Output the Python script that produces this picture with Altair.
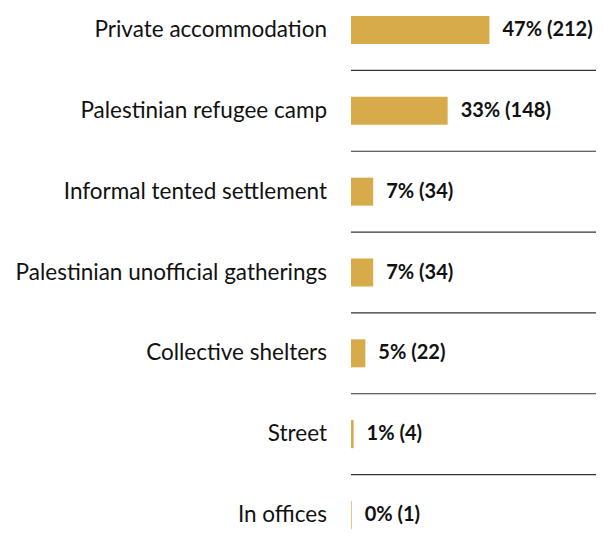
import altair as alt
import pandas as pd

categories = [
    "Private accommodation",
    "Palestinian refugee camp",
    "Informal tented settlement",
    "Palestinian unofficial gatherings",
    "Collective shelters",
    "Street",
    "In offices",
]
counts = [212, 148, 34, 34, 22, 4, 1]
percents = [47, 33, 7, 7, 5, 1, 0]

df = pd.DataFrame({
    "cat": categories,
    "count": counts,
    "idx": list(range(len(categories))),
    "label": [f"{p}% ({c})" for p, c in zip(percents, counts)],
})
sep = pd.DataFrame({"pos": [i + 0.5 for i in range(len(categories) - 1)]})

W, H = 588, 522
px_per = 0.653
zero_px = 343
first_c, last_c = 22, 507
step = (last_c - first_c) / 6
xdom = [-zero_px / px_per, (W - zero_px) / px_per]
ydom = [-first_c / step, 6 + (H - last_c) / step]

x_sc = alt.Scale(domain=xdom, nice=False, zero=False, padding=0)
y_sc = alt.Scale(domain=ydom, nice=False, zero=False, reverse=True, padding=0)

base = alt.Chart(df)

bars = base.mark_bar(height=28, color="#D7AB4A").encode(
    x=alt.X("count:Q", scale=x_sc, axis=None),
    x2=alt.datum(0),
    y=alt.Y("idx:Q", scale=y_sc, axis=None),
)

vals = base.mark_text(
    align="left", baseline="middle", dx=13, fontSize=20, fontWeight="bold",
    font="Lato", color="#111111",
).encode(
    x=alt.X("count:Q", scale=x_sc, axis=None),
    y=alt.Y("idx:Q", scale=y_sc, axis=None),
    text="label:N",
)

cats = base.mark_text(
    align="right", baseline="middle", fontSize=22.5, font="Lato", color="#111111",
).encode(
    x=alt.value(319),
    y=alt.Y("idx:Q", scale=y_sc, axis=None),
    text="cat:N",
)

rules = alt.Chart(sep).mark_rule(color="#333333", strokeWidth=1.2).encode(
    x=alt.value(zero_px),
    x2=alt.value(W),
    y=alt.Y("pos:Q", scale=y_sc, axis=None),
)

chart = alt.layer(rules, bars, vals, cats).properties(
    width=W, height=H, padding=0,
    autosize=alt.AutoSizeParams(type="none"),
).configure_view(stroke=None)

chart.save("out.html", embed_options={"renderer": "svg", "actions": False})
